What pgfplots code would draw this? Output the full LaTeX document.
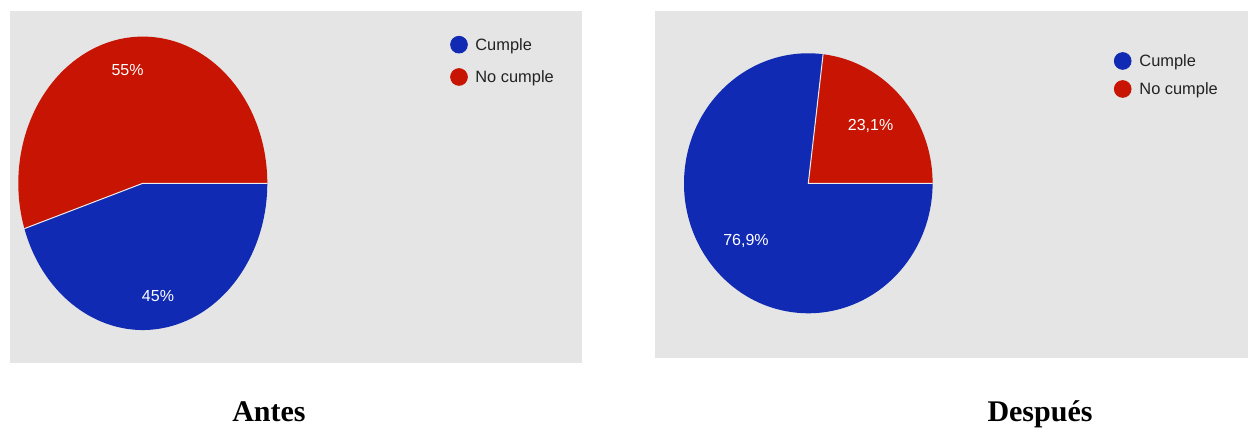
\documentclass[border=0pt]{standalone}
\usepackage{fontspec}
\setmainfont{Liberation Sans}
\newfontfamily\titlefont{Liberation Serif}
\usepackage{pgfplots}
\usepackage{pgfplotstable}
\pgfplotsset{compat=1.18}

\definecolor{cumple}{RGB}{16,42,180}
\definecolor{nocumple}{RGB}{200,20,2}
\definecolor{panel}{RGB}{229,229,229}
\definecolor{legtext}{RGB}{34,34,34}

% porcentajes de cada grafico
\pgfplotstableread{
serie valor
Cumple 45
NoCumple 55
}\antes
\pgfplotstableread{
serie valor
Cumple 76.9
NoCumple 23.1
}\despues

\pgfplotsset{
  panelaxis/.style={
    x=0.5pt, y=0.5pt,
    anchor=south west,
    hide axis, clip=false,
  },
}

\tikzset{leg/.style={anchor=base west, inner sep=0pt, text=legtext, font=\fontsize{8.2}{9}\selectfont}}

\newcommand{\etiq}[1]{\pgfmathprintnumber[assume math mode=true,use comma,precision=1]{#1}\%}

\begin{document}
\begin{tikzpicture}
\path (0,0) rectangle (624pt,213.5pt);

\pgfplotstablegetelem{0}{valor}\of\antes \edef\aSi{\pgfplotsretval}
\pgfplotstablegetelem{1}{valor}\of\antes \edef\aNo{\pgfplotsretval}
\pgfplotstablegetelem{0}{valor}\of\despues \edef\dSi{\pgfplotsretval}
\pgfplotstablegetelem{1}{valor}\of\despues \edef\dNo{\pgfplotsretval}
\pgfmathsetmacro\aAng{3.6*\aNo}
\pgfmathsetmacro\dAng{3.6*\dNo}

% ---- Antes ----
\begin{axis}[panelaxis, at={(5pt,32pt)},
  xmin=10, xmax=582, ymin=64, ymax=416]
  \fill[panel] (rel axis cs:0,0) rectangle (rel axis cs:1,1);
  % no cumple
  \fill[nocumple] (axis cs:142.8,243.7) -- (axis cs:267.3,243.7)
    arc[start angle=0, end angle=\aAng, x radius=62.25pt, y radius=73.35pt] -- cycle;
  % cumple
  \fill[cumple] (axis cs:142.8,243.7) -- (axis cs:{142.8+124.5*cos(\aAng)},{243.7+146.7*sin(\aAng)})
    arc[start angle=\aAng, end angle=360, x radius=62.25pt, y radius=73.35pt] -- cycle;
  \draw[white!85!gray, line width=0.5pt] (axis cs:267.3,243.7) -- (axis cs:142.8,243.7)
    -- (axis cs:{142.8+124.5*cos(\aAng)},{243.7+146.7*sin(\aAng)});
  \node[white, font=\fontsize{8}{9}\selectfont] at
    (axis cs:{142.8+0.78*124.5*cos(\aAng/2)},{243.7+0.78*146.7*sin(\aAng/2)}) {\etiq{\aNo}};
  \node[white, font=\fontsize{8}{9}\selectfont] at
    (axis cs:{142.8+0.78*124.5*cos((\aAng+360)/2)},{243.7+0.78*146.7*sin((\aAng+360)/2)}) {\etiq{\aSi}};
  % leyenda
  \addplot[only marks, mark=*, mark size=4.2pt, cumple] coordinates {(459,382.3)};
  \addplot[only marks, mark=*, mark size=4.2pt, nocumple] coordinates {(459,350)};
  \node[leg] at (axis cs:475,376.5) {Cumple};
  \node[leg] at (axis cs:475,344.2) {No cumple};
  \node[anchor=base, font=\titlefont\bfseries\fontsize{15}{16}\selectfont] at (axis cs:269,5.5) {Antes};
\end{axis}

% ---- Despues ----
\begin{axis}[panelaxis, at={(327.5pt,34.5pt)},
  xmin=655, xmax=1248, ymin=69, ymax=416]
  \fill[panel] (rel axis cs:0,0) rectangle (rel axis cs:1,1);
  \fill[nocumple] (axis cs:808.3,243.7) -- (axis cs:932.6,243.7)
    arc[start angle=0, end angle=\dAng, x radius=62.15pt, y radius=65pt] -- cycle;
  \fill[cumple] (axis cs:808.3,243.7) -- (axis cs:{808.3+124.3*cos(\dAng)},{243.7+130*sin(\dAng)})
    arc[start angle=\dAng, end angle=360, x radius=62.15pt, y radius=65pt] -- cycle;
  \draw[white!85!gray, line width=0.5pt] (axis cs:932.6,243.7) -- (axis cs:808.3,243.7)
    -- (axis cs:{808.3+124.3*cos(\dAng)},{243.7+130*sin(\dAng)});
  \node[white, font=\fontsize{8}{9}\selectfont] at
    (axis cs:{808.3+0.67*124.3*cos(\dAng/2)},{243.7+0.67*130*sin(\dAng/2)}) {\etiq{\dNo}};
  \node[white, font=\fontsize{8}{9}\selectfont] at
    (axis cs:{808.3+0.67*124.3*cos((\dAng+360)/2)},{243.7+0.67*130*sin((\dAng+360)/2)}) {\etiq{\dSi}};
  \addplot[only marks, mark=*, mark size=4.2pt, cumple] coordinates {(1122.7,366)};
  \addplot[only marks, mark=*, mark size=4.2pt, nocumple] coordinates {(1122.7,338)};
  \node[leg] at (axis cs:1139,360.2) {Cumple};
  \node[leg] at (axis cs:1139,332.2) {No cumple};
  \node[anchor=base, font=\titlefont\bfseries\fontsize{15}{16}\selectfont] at (axis cs:1040,5.5) {Después};
\end{axis}
\end{tikzpicture}
\end{document}
